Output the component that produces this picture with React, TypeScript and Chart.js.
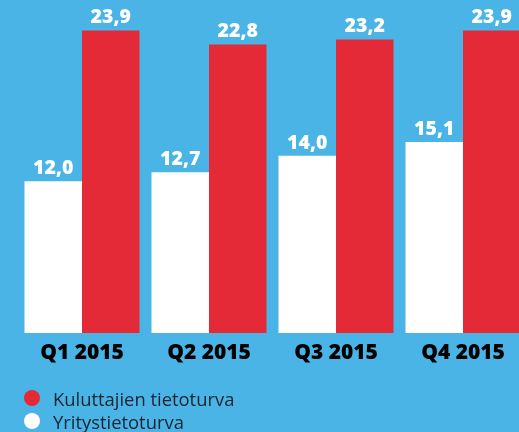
import React, { useEffect, useRef } from "react";
import { Chart, registerables } from "chart.js";

Chart.register(...registerables);

const categories = ["Q1 2015", "Q2 2015", "Q3 2015", "Q4 2015"];
const yritysValues = [12.0, 12.7, 14.0, 15.1];
const kuluttajaValues = [23.9, 22.8, 23.2, 23.9];
const seriesNames = ["Yritystietoturva", "Kuluttajien tietoturva"];

const BG = "#4BB4E6";
const RED = "#E32A36";
const WHITE = "#FFFFFF";
const FONT = "'Open Sans', 'Noto Sans', sans-serif";

const valueLabels = {
  id: "valueLabels",
  afterDatasetsDraw(chart: any) {
    const ctx = chart.ctx;
    ctx.save();
    ctx.fillStyle = "#FFFFFF";
    ctx.font = `800 19.5px ${FONT}`;
    ctx.textAlign = "center";
    ctx.textBaseline = "bottom";
    chart.data.datasets.forEach((ds: any, di: number) => {
      const meta = chart.getDatasetMeta(di);
      meta.data.forEach((el: any, i: number) => {
        const v = ds.data[i] as number;
        ctx.fillText(v.toFixed(1).replace(".", ","), el.x, el.y - 3);
      });
    });
    ctx.restore();
  },
};

export default function App() {
  const ref = useRef<HTMLCanvasElement | null>(null);
  useEffect(() => {
    if (!ref.current) return;
    const chart = new Chart(ref.current, {
      type: "bar",
      data: {
        labels: categories,
        datasets: [
          {
            label: seriesNames[0],
            data: yritysValues,
            backgroundColor: WHITE,
            categoryPercentage: 115 / 127,
            barPercentage: 1,
          },
          {
            label: seriesNames[1],
            data: kuluttajaValues,
            backgroundColor: RED,
            categoryPercentage: 115 / 127,
            barPercentage: 1,
          },
        ],
      },
      options: {
        responsive: false,
        animation: false,
        layout: { padding: { left: 18.5, right: 3.5, top: 4, bottom: 0 } },
        plugins: {
          legend: { display: false },
          tooltip: { enabled: false },
        },
        scales: {
          x: {
            grid: { display: false, drawTicks: false },
            border: { display: false },
            ticks: {
              color: "#000000",
              font: { family: FONT, weight: "800", size: 21 },
              padding: 7,
            },
            afterFit(scale: any) {
              scale.height = 99;
            },
          },
          y: {
            display: false,
            min: 0,
            max: 26,
          },
        },
      },
      plugins: [valueLabels],
    });
    return () => chart.destroy();
  }, []);

  const legendItem = (color: string, text: string, top: number) => (
    <div
      style={{
        position: "absolute",
        left: 24,
        top,
        display: "flex",
        alignItems: "center",
        height: 20,
      }}
    >
      <span
        style={{
          width: 16,
          height: 16,
          borderRadius: "50%",
          background: color,
          display: "inline-block",
        }}
      />
      <span
        style={{
          marginLeft: 13,
          fontFamily: FONT,
          fontSize: 18.4,
          color: "#1B2430",
          whiteSpace: "nowrap",
        }}
      >
        {text}
      </span>
    </div>
  );

  return (
    <div
      style={{
        position: "fixed",
        left: 0,
        top: 0,
        width: 519,
        height: 432,
        overflow: "hidden",
        background: BG,
      }}
    >
      <canvas
        ref={ref}
        width={530}
        height={432}
        style={{ position: "absolute", left: 0, top: 0, width: 530, height: 432 }}
      />
      {legendItem(RED, seriesNames[1], 388)}
      {legendItem(WHITE, seriesNames[0], 411)}
    </div>
  );
}
